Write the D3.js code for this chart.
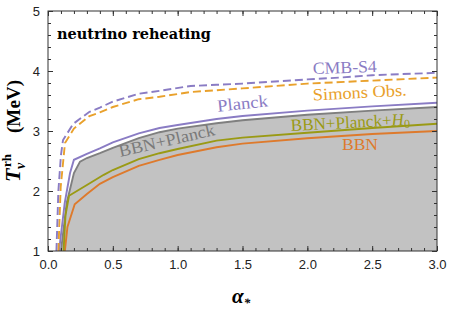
<!DOCTYPE html>
<html>
<head>
<meta charset="utf-8">
<script src="https://cdn.jsdelivr.net/npm/d3@7"></script>
<style>
  body { margin: 0; background: #fff; }
  svg { display: block; }
  .tick-label { font: 13px "Liberation Sans", Arial, sans-serif; fill: #222; }
  .lbl { font-family: "Liberation Serif", "DejaVu Serif", serif; }
</style>
</head>
<body>
<svg id="chart"></svg>
<script>
// данные: [alpha, T (MeV)]
const cmbS4 = [[0.065,1.0],[0.08,2.0],[0.1,2.6],[0.116,2.85],[0.195,3.12],[0.32,3.32],[0.4,3.39],[0.5,3.49],[0.7,3.62],[0.86,3.67],[1.1,3.75],[1.3,3.77],[1.5,3.79],[2.0,3.86],[2.25,3.89],[2.5,3.93],[3.0,3.97]];
const simons = [[0.08,1.0],[0.098,2.07],[0.131,2.8],[0.2,3.04],[0.32,3.25],[0.4,3.31],[0.5,3.4],[0.7,3.53],[0.86,3.57],[1.1,3.65],[1.3,3.68],[1.5,3.71],[2.0,3.79],[2.5,3.84],[3.0,3.89]];
const planck = [[0.085,1.0],[0.129,1.8],[0.17,2.3],[0.2,2.52],[0.3,2.62],[0.4,2.71],[0.5,2.81],[0.7,2.96],[0.86,3.05],[1.0,3.1],[1.3,3.2],[1.5,3.25],[2.0,3.34],[2.5,3.41],[3.0,3.47]];
const bbnPlanck = [[0.1,1.0],[0.144,1.8],[0.2,2.3],[0.247,2.49],[0.3,2.55],[0.4,2.63],[0.5,2.72],[0.7,2.88],[0.86,2.98],[1.0,3.04],[1.3,3.13],[1.5,3.18],[2.0,3.27],[2.5,3.34],[3.0,3.40]];
const bbnPlanckH0 = [[0.12,1.0],[0.135,1.6],[0.162,1.92],[0.3,2.1],[0.43,2.27],[0.5,2.35],[0.7,2.53],[0.86,2.63],[1.0,2.7],[1.3,2.84],[1.5,2.89],[2.0,2.97],[2.5,3.05],[3.0,3.12]];
const bbn = [[0.13,1.0],[0.15,1.4],[0.206,1.78],[0.3,1.95],[0.4,2.12],[0.5,2.23],[0.7,2.42],[0.86,2.52],[1.0,2.6],[1.3,2.73],[1.5,2.79],[2.0,2.88],[2.5,2.95],[3.0,3.0]];

const xTicks = [0, 0.5, 1.0, 1.5, 2.0, 2.5, 3.0];
const yTicks = [1, 2, 3, 4, 5];

const width = 449, height = 312;
const margin = {left: 48, right: 12, top: 11, bottom: 61};
const svg = d3.select("#chart").attr("width", width).attr("height", height);

const x = d3.scaleLinear().domain([0, 3]).range([margin.left, width - margin.right]);
const y = d3.scaleLinear().domain([1, 5]).range([height - margin.bottom, margin.top]);

svg.append("clipPath").attr("id", "clip")
  .append("rect")
  .attr("x", x(0)).attr("y", y(5))
  .attr("width", x(3) - x(0)).attr("height", y(1) - y(5));

const plot = svg.append("g").attr("clip-path", "url(#clip)");

// серая область BBN+Planck
const area = d3.area().x(d => x(d[0])).y0(y(1)).y1(d => y(d[1]));
plot.append("path").datum(bbnPlanck.concat([[3.2, bbnPlanck[bbnPlanck.length - 1][1]]]))
  .attr("d", area).attr("fill", "#c2c2c2");

const line = d3.line().x(d => x(d[0])).y(d => y(d[1]));
const curves = [
  {data: bbnPlanck, color: "#7f7f7f", dash: null},
  {data: bbn, color: "#de7a2c", dash: null},
  {data: bbnPlanckH0, color: "#9a9a14", dash: null},
  {data: planck, color: "#8a7cc4", dash: null},
  {data: simons, color: "#e9a12c", dash: "8,4"},
  {data: cmbS4, color: "#8a7cc4", dash: "8,4"}
];
curves.forEach(c => {
  plot.append("path").datum(c.data)
    .attr("d", line)
    .attr("fill", "none")
    .attr("stroke", c.color)
    .attr("stroke-width", 1.9)
    .attr("stroke-dasharray", c.dash);
});

// рамка
svg.append("rect")
  .attr("x", x(0)).attr("y", y(5))
  .attr("width", x(3) - x(0)).attr("height", y(1) - y(5))
  .attr("fill", "none").attr("stroke", "#333").attr("stroke-width", 1);

// оси с внутренними засечками
const xMinor = d3.range(0, 3.0001, 0.1);
const yMinor = d3.range(1, 5.0001, 0.2);
function addAxis(axis, tr, labels) {
  const g = svg.append("g").attr("transform", tr).call(axis);
  g.select(".domain").remove();
  g.selectAll("line").attr("stroke", "#333");
  if (!labels) g.selectAll("text").remove();
  return g;
}
addAxis(d3.axisBottom(x).tickValues(xMinor).tickSize(-3).tickFormat(""), `translate(0,${y(1)})`, false);
addAxis(d3.axisTop(x).tickValues(xMinor).tickSize(-3).tickFormat(""), `translate(0,${y(5)})`, false);
addAxis(d3.axisLeft(y).tickValues(yMinor).tickSize(-3).tickFormat(""), `translate(${x(0)},0)`, false);
addAxis(d3.axisRight(y).tickValues(yMinor).tickSize(-3).tickFormat(""), `translate(${x(3)},0)`, false);

const gx = addAxis(d3.axisBottom(x).tickValues(xTicks).tickSize(-5).tickPadding(9).tickFormat(d3.format(".1f")), `translate(0,${y(1)})`, true);
gx.selectAll("text").attr("class", "tick-label");
addAxis(d3.axisTop(x).tickValues(xTicks).tickSize(-5).tickFormat(""), `translate(0,${y(5)})`, false);
const gy = addAxis(d3.axisLeft(y).tickValues(yTicks).tickSize(-5).tickPadding(8).tickFormat(d3.format("d")), `translate(${x(0)},0)`, true);
gy.selectAll("text").attr("class", "tick-label");
addAxis(d3.axisRight(y).tickValues(yTicks).tickSize(-5).tickFormat(""), `translate(${x(3)},0)`, false);

// подписи кривых (координаты центра базовой линии в пикселях)
const labels = [
  {t: "CMB-S4", cx: 345, cy: 73, len: 64, rot: -2, color: "#8a7cc4"},
  {t: "Simons Obs.", cx: 360, cy: 98, len: 94, rot: -3, color: "#e9a12c"},
  {t: "Planck", cx: 243, cy: 109, len: 51, rot: -6, color: "#8a7cc4"},
  {t: "BBN+Planck", cx: 168, cy: 146, len: 98, rot: -13, color: "#7a7a7a"},
  {t: "BBN", cx: 360, cy: 150, len: 36, rot: 0, color: "#de7a2c"}
];
labels.forEach(l => {
  svg.append("text").attr("class", "lbl")
    .attr("transform", `translate(${l.cx},${l.cy}) rotate(${l.rot})`)
    .attr("text-anchor", "middle")
    .attr("font-size", 17)
    .attr("textLength", l.len).attr("lengthAdjust", "spacingAndGlyphs")
    .attr("fill", l.color)
    .text(l.t);
});
const h0 = svg.append("text").attr("class", "lbl")
  .attr("transform", `translate(291,131) rotate(-3)`)
  .attr("font-size", 17).attr("fill", "#9a9a14");
h0.append("tspan").attr("textLength", 101).attr("lengthAdjust", "spacingAndGlyphs").text("BBN+Planck+");
h0.append("tspan").attr("font-style", "italic").text("H");
h0.append("tspan").attr("font-size", 12).attr("dy", 3).text("0");

svg.append("text")
  .attr("x", 57).attr("y", 38.5)
  .attr("font-family", "'DejaVu Serif', serif")
  .attr("font-size", 14.5).attr("font-weight", "bold")
  .attr("textLength", 154).attr("lengthAdjust", "spacingAndGlyphs")
  .text("neutrino reheating");

// подписи осей
const xl = svg.append("text").attr("class", "lbl")
  .attr("x", 232).attr("y", 303)
  .attr("font-size", 21)
  .attr("font-weight", "bold").attr("font-style", "italic");
xl.append("tspan").text("α");
xl.append("tspan").attr("font-size", 13).attr("dy", 4).text("*");

const yl = svg.append("g").attr("transform", "translate(20,182) rotate(-90)");
yl.append("text").attr("class", "lbl").attr("x", 0).attr("y", 0)
  .attr("font-size", 22).attr("font-weight", "bold").attr("font-style", "italic").text("T");
yl.append("text").attr("class", "lbl").attr("x", 13).attr("y", 5)
  .attr("font-size", 14).attr("font-weight", "bold").attr("font-style", "italic").text("ν");
yl.append("text").attr("class", "lbl").attr("x", 15).attr("y", -9)
  .attr("font-size", 13).attr("font-weight", "bold").text("rh");
yl.append("text").attr("class", "lbl").attr("x", 49).attr("y", 0)
  .attr("font-size", 18).attr("font-weight", "bold")
  .attr("textLength", 53).attr("lengthAdjust", "spacingAndGlyphs").text("(MeV)");
</script>
</body>
</html>
